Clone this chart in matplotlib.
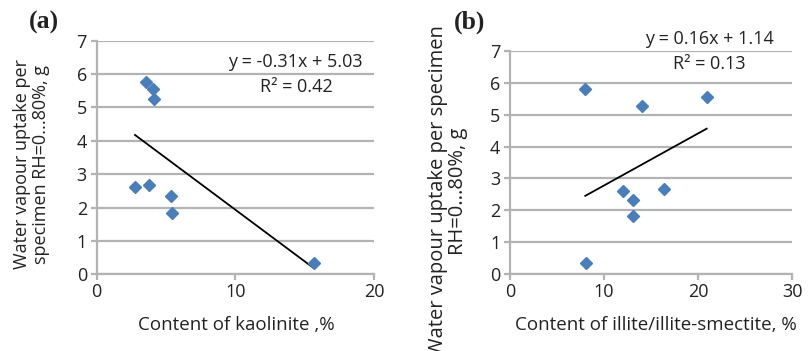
import numpy as np
import matplotlib
matplotlib.use("Agg")
import matplotlib.pyplot as plt

plt.rcParams['font.family'] = ['Open Sans', 'DejaVu Sans']

# Panel (a): kaolinite
kaol_x = [3.55, 4.08, 4.15, 2.76, 3.8, 5.38, 5.43, 15.67]
kaol_y = [5.77, 5.55, 5.25, 2.61, 2.68, 2.34, 1.83, 0.34]
# Panel (b): illite / illite-smectite
ill_x = [8.0, 8.04, 14.0, 20.9, 12.0, 13.07, 13.07, 16.4]
ill_y = [5.79, 0.34, 5.27, 5.56, 2.61, 2.34, 1.83, 2.67]

eq_a = ["y = -0.31x + 5.03", "R² = 0.42"]
eq_b = ["y = 0.16x + 1.14", "R² = 0.13"]
xlabel_a = "Content of kaolinite ,%"
xlabel_b = "Content of illite/illite-smectite, %"
ylabel_a = "Water vapour uptake per\nspecimen RH=0...80%, g"
ylabel_b = "Water vapour uptake per specimen\nRH=0...80%, g"
xticks_a = [0, 10, 20]
xticks_b = [0, 10, 20, 30]
yticks = [0, 1, 2, 3, 4, 5, 6, 7]

W, H = 808, 351
fig = plt.figure(figsize=(W / 100, H / 100), dpi=100)

def px_axes(l, r, t, b):
    return fig.add_axes([l / W, 1 - b / H, (r - l) / W, (b - t) / H])

ax_a = px_axes(96.7, 374, 40.7, 274.3)
ax_b = px_axes(510, 792.3, 50.7, 274.3)

grid_c = '#b3b3b3'
blue = '#4a7ebb'
tc = '#222222'

def style(ax, x, y, xt):
    ax.set_xlim(xt[0], xt[-1])
    ax.set_ylim(0, 7)
    ax.set_xticks(xt)
    ax.set_yticks(yticks)
    ax.grid(axis='y', color=grid_c, linewidth=1.6)
    ax.set_axisbelow(True)
    for s in ['top', 'right']:
        ax.spines[s].set_visible(False)
    for s in ['left', 'bottom']:
        ax.spines[s].set_color(grid_c)
        ax.spines[s].set_linewidth(1.6)
    ax.tick_params(axis='both', colors=grid_c, length=4, width=1.6,
                   labelsize=13, labelcolor=tc)
    ax.tick_params(axis='x', pad=2)
    ax.tick_params(axis='y', pad=3)
    ax.plot(x, y, linestyle='none', marker='D', markersize=6.5,
            color=blue, clip_on=False, zorder=3)
    k, b = np.polyfit(x, y, 1)
    xs = np.array([min(x), max(x)])
    ax.plot(xs, k * xs + b, color='black', linewidth=1.3, zorder=2)

style(ax_a, kaol_x, kaol_y, xticks_a)
style(ax_b, ill_x, ill_y, xticks_b)

fs_eq = 13
fig.text(295.5 / W, 1 - 61.7 / H, eq_a[0], ha='center', va='center', fontsize=fs_eq, color=tc)
fig.text(296 / W, 1 - 87 / H, eq_a[1], ha='center', va='center', fontsize=fs_eq, color=tc)
fig.text(709.5 / W, 1 - 39 / H, eq_b[0], ha='center', va='center', fontsize=fs_eq, color=tc)
fig.text(709 / W, 1 - 64 / H, eq_b[1], ha='center', va='center', fontsize=fs_eq, color=tc)

fs_lab = 13.5
fig.text(236.7 / W, 1 - 325 / H, xlabel_a, ha='center', va='center', fontsize=fs_lab, color=tc)
fig.text(656 / W, 1 - 325 / H, xlabel_b, ha='center', va='center', fontsize=fs_lab, color=tc)

fig.text(31.5 / W, 1 - 164 / H, ylabel_a, ha='center', va='center', rotation=90,
         multialignment='center', fontsize=13, color=tc, linespacing=1.1)
fig.text(447.5 / W, 1 - 191 / H, ylabel_b, ha='center', va='center', rotation=90,
         multialignment='center', fontsize=14.5, color=tc, linespacing=1.0)

fig.text(44 / W, 1 - 22 / H, "(a)", ha='center', va='center', fontsize=18.5,
         fontweight='bold', family='Liberation Serif', color=tc)
fig.text(470 / W, 1 - 22 / H, "(b)", ha='center', va='center', fontsize=18.5,
         fontweight='bold', family='Liberation Serif', color=tc)

fig.savefig('out.png', dpi=100)
